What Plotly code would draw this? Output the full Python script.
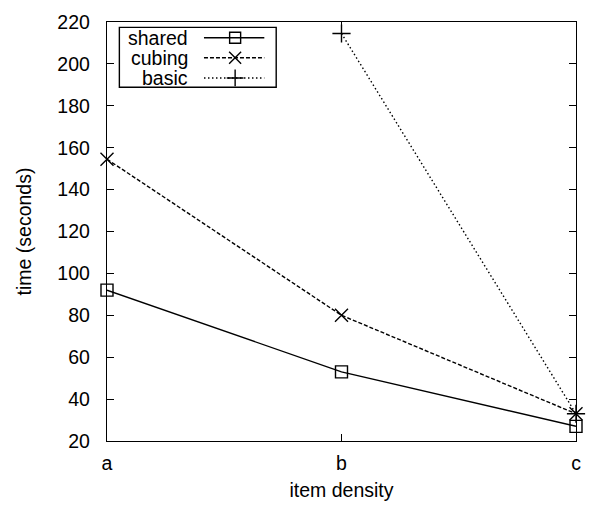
import plotly.graph_objects as go

categories = ["a", "b", "c"]
shared = [92, 53, 27]
cubing = [154.5, 80, 33]
basic = [None, 214.5, 33]
y_ticks = [20, 40, 60, 80, 100, 120, 140, 160, 180, 200, 220]

FONT = "Liberation Sans, Arial, Helvetica, sans-serif"
FS = 19.5
LW = 1.4

fig = go.Figure()

series = [
    ("shared", shared, "solid", "square-open", 12),
    ("cubing", cubing, "4px,2px", "x-thin-open", 13),
    ("basic", basic, "1.5px,2.5px", "cross-thin-open", 13),
]
for name, vals, dash, sym, size in series:
    fig.add_trace(go.Scatter(
        x=categories, y=vals, name=name, mode="lines+markers",
        line=dict(color="black", width=LW, dash=dash),
        marker=dict(symbol=sym, size=size, color="black",
                    line=dict(color="black", width=LW)),
        cliponaxis=False, showlegend=False, connectgaps=False,
    ))

# custom legend (text left of sample, gnuplot style) on a pixel overlay axis
leg_rows = [32, 52.5, 73]
leg_text_x = 191
leg_line = (205, 266)
leg_marker_x = 236.5
for (name, vals, dash, sym, size), ry in zip(series, leg_rows):
    fig.add_shape(type="line", xref="x2", yref="y2", x0=leg_line[0], x1=leg_line[1],
                  y0=ry, y1=ry, line=dict(color="black", width=LW, dash=dash))
    fig.add_annotation(xref="x2", yref="y2", x=leg_text_x, y=ry, text=name,
                       showarrow=False, xanchor="right", yanchor="middle",
                       font=dict(family=FONT, size=FS, color="black"))
    fig.add_trace(go.Scatter(
        x=[leg_marker_x], y=[ry], xaxis="x2", yaxis="y2", mode="markers",
        marker=dict(symbol=sym, size=size - 1, color="black",
                    line=dict(color="black", width=LW)),
        showlegend=False, hoverinfo="skip", cliponaxis=False,
    ))
fig.add_shape(type="rect", xref="x2", yref="y2", x0=119.5, x1=278, y0=21.5, y1=82.5,
              line=dict(color="black", width=LW), fillcolor="rgba(0,0,0,0)")

fig.update_layout(
    width=592, height=508,
    margin=dict(l=107, r=11, t=16, b=65),
    paper_bgcolor="white", plot_bgcolor="white",
    font=dict(family=FONT, size=FS, color="black"),
    xaxis=dict(
        type="category", range=[0, 2], showgrid=False, zeroline=False,
        ticks="inside", ticklen=7, tickwidth=1.2, tickcolor="black",
        showline=True, linecolor="black", linewidth=LW, mirror="ticks",
        tickfont=dict(family=FONT, size=FS, color="black"),
        title=dict(text="item density", standoff=10,
                   font=dict(family=FONT, size=FS, color="black")),
        ticklabelstandoff=4,
    ),
    yaxis=dict(
        range=[20, 220], tickvals=y_ticks, showgrid=False, zeroline=False,
        ticks="inside", ticklen=7, tickwidth=1.2, tickcolor="black",
        showline=True, linecolor="black", linewidth=LW, mirror="ticks",
        tickfont=dict(family=FONT, size=FS, color="black"),
        title=dict(text="time (seconds)", standoff=20,
                   font=dict(family=FONT, size=FS, color="black")),
        ticklabelstandoff=12,
    ),
    xaxis2=dict(overlaying="x", range=[107, 581], visible=False, fixedrange=True),
    yaxis2=dict(overlaying="y", range=[443, 16], visible=False, fixedrange=True),
    showlegend=False,
)

fig.write_html("out.html")
